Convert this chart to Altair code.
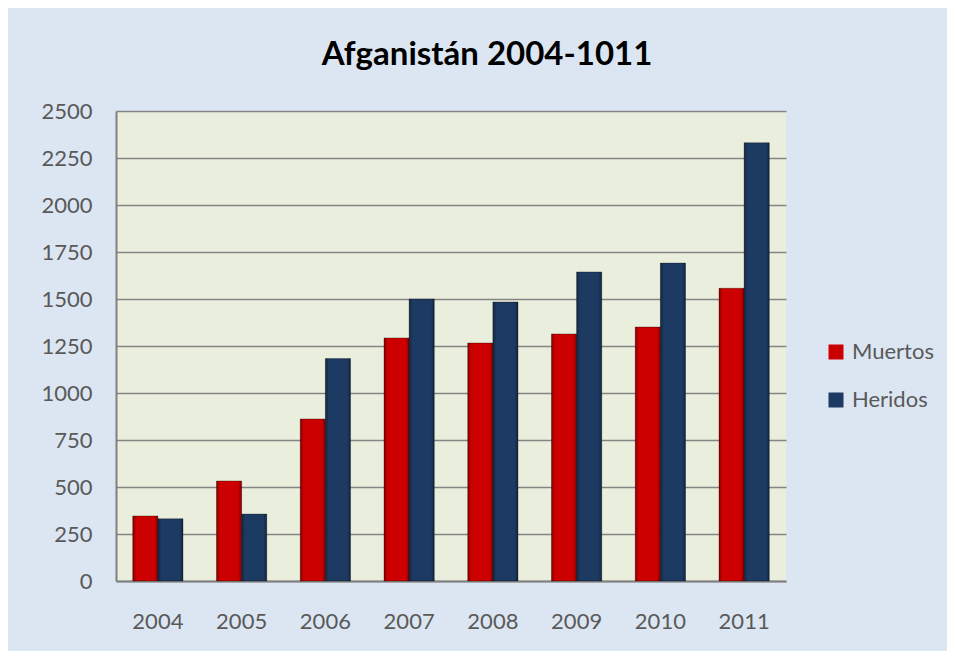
import altair as alt
import pandas as pd

years = ["2004", "2005", "2006", "2007", "2008", "2009", "2010", "2011"]
series = ["Muertos", "Heridos"]
muertos = [346, 532, 862, 1293, 1266, 1314, 1351, 1557]
heridos = [331, 356, 1183, 1500, 1484, 1644, 1691, 2331]
y_ticks = [0, 250, 500, 750, 1000, 1250, 1500, 1750, 2000, 2250, 2500]

rows = []
for i, yr in enumerate(years):
    rows.append({"year": yr, "serie": "Muertos", "valor": muertos[i]})
    rows.append({"year": yr, "serie": "Heridos", "valor": heridos[i]})
df = pd.DataFrame(rows)

RED = "#cc0000"
BLUE = "#1d3a62"
FONT = "Lato"
GRAY = "#595959"

x_enc = alt.X("year:N", sort=years,
              scale=alt.Scale(paddingInner=0.4, paddingOuter=0.2),
              axis=alt.Axis(title=None, labelAngle=0, ticks=False, labelPadding=30,
                            labelFont=FONT, labelFontSize=22, labelColor=GRAY,
                            domainColor="#808080", domainWidth=2))
y_enc = alt.Y("valor:Q",
              scale=alt.Scale(domain=[0, 2500], nice=False),
              axis=alt.Axis(title=None, values=y_ticks, format="d", ticks=False,
                            labelPadding=24,
                            labelFont=FONT, labelFontSize=22, labelColor=GRAY,
                            domainColor="#808080", domainWidth=2,
                            gridColor="#858585", gridWidth=1.6))
xo = alt.XOffset("serie:N", sort=series)

bars = alt.Chart(df).mark_bar(strokeWidth=1, stroke="#000000", strokeOpacity=0.3).encode(
    x=x_enc, xOffset=xo, y=y_enc,
    color=alt.Color("serie:N",
                    scale=alt.Scale(domain=series, range=[RED, BLUE]),
                    legend=alt.Legend(title=None, orient="none", legendX=709, legendY=230,
                                      labelFont=FONT, labelFontSize=22, labelColor=GRAY,
                                      symbolType="square", symbolSize=225,
                                      symbolStrokeWidth=0, rowPadding=26,
                                      labelOffset=5, padding=0)),
)

shade = alt.Chart(df).mark_bar(
    color=alt.Gradient(
        gradient="linear", x1=0, x2=1, y1=0, y2=0,
        stops=[alt.GradientStop(offset=0, color="rgba(0,0,0,0.35)"),
               alt.GradientStop(offset=0.14, color="rgba(0,0,0,0)"),
               alt.GradientStop(offset=0.86, color="rgba(0,0,0,0)"),
               alt.GradientStop(offset=1, color="rgba(0,0,0,0.35)")])
).encode(x=x_enc, xOffset=xo, y=y_enc)

chart = alt.layer(bars, shade).properties(
    width=670,
    height=470,
    title=alt.TitleParams("Afganistán 2004-1011", font=FONT, fontSize=33,
                          fontWeight="bold", color="black", anchor="middle",
                          dx=36, offset=28),
    autosize=alt.AutoSizeParams(type="none"),
    padding={"left": 108, "top": 103, "right": 161, "bottom": 70},
    background="#dce6f2",
).configure_view(fill="#eaeedc", stroke=None)

chart.save("out.html", embed_options={"renderer": "svg", "actions": False})
